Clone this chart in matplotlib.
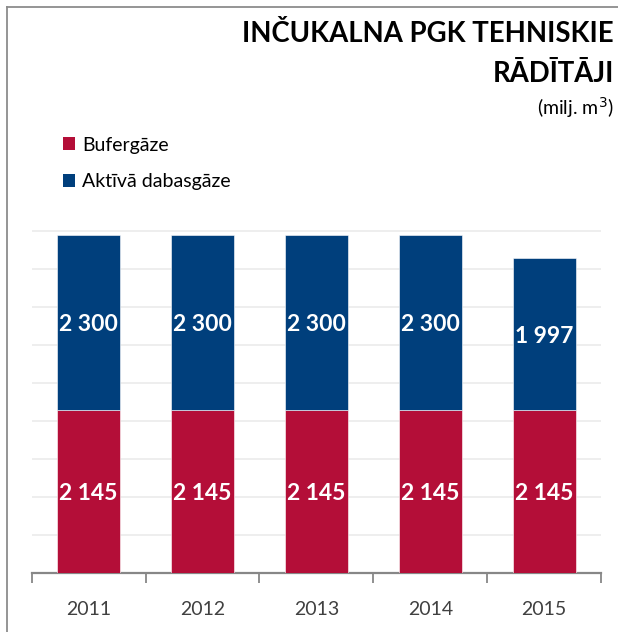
import matplotlib.pyplot as plt
from matplotlib.lines import Line2D
from matplotlib.patches import Patch

plt.rcParams['font.family'] = ['Lato', 'DejaVu Sans']

# data
years = ['2011', '2012', '2013', '2014', '2015']
bufergaze = [2145, 2145, 2145, 2145, 2145]
aktiva = [2300, 2300, 2300, 2300, 1997]

red = '#B40E38'
blue = '#003F7C'

W, H = 618, 632
fig = plt.figure(figsize=(W / 100, H / 100), dpi=100)

# plot area in pixels
left, right, bottom, top = 31.7, 601, 573, 229.7
ymax = 4520
ax = fig.add_axes([left / W, 1 - bottom / H, (right - left) / W, (bottom - top) / H])

x = range(len(years))
b1 = ax.bar(x, bufergaze, width=0.553, color=red, edgecolor='white', linewidth=0.4, zorder=3)
b2 = ax.bar(x, aktiva, width=0.553, bottom=bufergaze, color=blue, edgecolor='white',
            linewidth=0.4, zorder=3)

def fmt(v):
    return f'{v:,}'.replace(',', ' ')

for i in x:
    ax.text(i, bufergaze[i] / 2, fmt(bufergaze[i]), ha='center', va='center_baseline',
            color='white', fontsize=16.5, fontweight='bold', zorder=4)
    ax.text(i, bufergaze[i] + aktiva[i] / 2, fmt(aktiva[i]), ha='center', va='center_baseline',
            color='white', fontsize=16.5, fontweight='bold', zorder=4)

ax.set_xlim(-0.5, len(years) - 0.5)
ax.set_ylim(0, ymax)
ax.set_yticks(range(500, 4501, 500))
ax.yaxis.grid(True, color='#EBEBEB', linewidth=1.2, zorder=0)
ax.tick_params(axis='y', left=False, labelleft=False)
ax.set_xticks(list(x))
ax.set_xticklabels(years, fontsize=14, color='#404040')
ax.set_xticks([i - 0.5 for i in range(len(years) + 1)], minor=True)
ax.tick_params(axis='x', which='major', length=0, pad=20)
ax.tick_params(axis='x', which='minor', length=7, width=1.3, color='#878787')
for s in ['top', 'right', 'left']:
    ax.spines[s].set_visible(False)
ax.spines['bottom'].set_color('#878787')
ax.spines['bottom'].set_linewidth(1.6)

# title
fig.text(614 / W, 1 - 34 / H, 'INČUKALNA PGK TEHNISKIE', ha='right', va='center',
         fontsize=19.8, fontweight='bold', color='black')
fig.text(614 / W, 1 - 74 / H, 'RĀDĪTĀJI', ha='right', va='center',
         fontsize=19.8, fontweight='bold', color='black')
fig.text(614 / W, 1 - 108 / H, '(milj. m$^3$)', ha='right', va='center',
         fontsize=14, color='black')

# legend
handles = [Patch(facecolor=red), Patch(facecolor=blue)]
fig.legend(handles, ['Bufergāze', 'Aktīvā dabasgāze'], loc='upper left',
           bbox_to_anchor=(55 / W, 1 - 129 / H), frameon=False, fontsize=14,
           handlelength=0.65, handleheight=0.65, handletextpad=0.35, labelspacing=1.0,
           borderaxespad=0)

# outer frame (cropped)
fig.add_artist(Line2D([7.3 / W, 1], [1 - 6.7 / H, 1 - 6.7 / H], color='#8C8C8C', linewidth=1.3,
                      transform=fig.transFigure))
fig.add_artist(Line2D([7.3 / W, 7.3 / W], [0, 1 - 6.7 / H], color='#8C8C8C', linewidth=1.3,
                      transform=fig.transFigure))

fig.savefig('out.png', dpi=100)
